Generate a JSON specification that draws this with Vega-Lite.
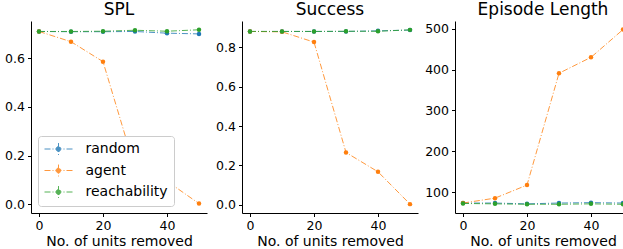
{
  "$schema": "https://vega.github.io/schema/vega-lite/v6.json",
  "padding": {"left": 2, "top": 1, "right": 0, "bottom": 0},
  "config": {
    "font": "DejaVu Sans",
    "view": {"stroke": null},
    "axis": {"grid": false, "domainColor": "#000000", "tickColor": "#000000", "tickSize": 3.5, "labelFontSize": 12.5, "labelColor": "#000000", "titleFontSize": 14, "titleFontWeight": "normal", "titleColor": "#000000", "labelPadding": 3, "titlePadding": 2, "domainWidth": 1, "tickWidth": 1},
    "axisY": {"minExtent": 29, "maxExtent": 29},
    "title": {"fontSize": 17, "fontWeight": "normal", "color": "#000000", "offset": 2}
  },
  "datasets": {
    "d": [
      {"metric": "SPL", "method": "random", "units": 0, "value": 0.710},
      {"metric": "SPL", "method": "random", "units": 10, "value": 0.709},
      {"metric": "SPL", "method": "random", "units": 20, "value": 0.709},
      {"metric": "SPL", "method": "random", "units": 30, "value": 0.710},
      {"metric": "SPL", "method": "random", "units": 40, "value": 0.703},
      {"metric": "SPL", "method": "random", "units": 50, "value": 0.700},
      {"metric": "SPL", "method": "agent", "units": 0, "value": 0.710},
      {"metric": "SPL", "method": "agent", "units": 10, "value": 0.668},
      {"metric": "SPL", "method": "agent", "units": 20, "value": 0.586},
      {"metric": "SPL", "method": "agent", "units": 30, "value": 0.148},
      {"metric": "SPL", "method": "agent", "units": 40, "value": 0.095},
      {"metric": "SPL", "method": "agent", "units": 50, "value": 0.003},
      {"metric": "SPL", "method": "reachability", "units": 0, "value": 0.710},
      {"metric": "SPL", "method": "reachability", "units": 10, "value": 0.710},
      {"metric": "SPL", "method": "reachability", "units": 20, "value": 0.711},
      {"metric": "SPL", "method": "reachability", "units": 30, "value": 0.715},
      {"metric": "SPL", "method": "reachability", "units": 40, "value": 0.711},
      {"metric": "SPL", "method": "reachability", "units": 50, "value": 0.717},
      {"metric": "Success", "method": "random", "units": 0, "value": 0.880},
      {"metric": "Success", "method": "random", "units": 10, "value": 0.880},
      {"metric": "Success", "method": "random", "units": 20, "value": 0.880},
      {"metric": "Success", "method": "random", "units": 30, "value": 0.880},
      {"metric": "Success", "method": "random", "units": 40, "value": 0.883},
      {"metric": "Success", "method": "random", "units": 50, "value": 0.887},
      {"metric": "Success", "method": "agent", "units": 0, "value": 0.880},
      {"metric": "Success", "method": "agent", "units": 10, "value": 0.878},
      {"metric": "Success", "method": "agent", "units": 20, "value": 0.826},
      {"metric": "Success", "method": "agent", "units": 30, "value": 0.266},
      {"metric": "Success", "method": "agent", "units": 40, "value": 0.168},
      {"metric": "Success", "method": "agent", "units": 50, "value": 0.004},
      {"metric": "Success", "method": "reachability", "units": 0, "value": 0.880},
      {"metric": "Success", "method": "reachability", "units": 10, "value": 0.880},
      {"metric": "Success", "method": "reachability", "units": 20, "value": 0.880},
      {"metric": "Success", "method": "reachability", "units": 30, "value": 0.881},
      {"metric": "Success", "method": "reachability", "units": 40, "value": 0.881},
      {"metric": "Success", "method": "reachability", "units": 50, "value": 0.888},
      {"metric": "Episode Length", "method": "random", "units": 0, "value": 73},
      {"metric": "Episode Length", "method": "random", "units": 10, "value": 73},
      {"metric": "Episode Length", "method": "random", "units": 20, "value": 71},
      {"metric": "Episode Length", "method": "random", "units": 30, "value": 73},
      {"metric": "Episode Length", "method": "random", "units": 40, "value": 74},
      {"metric": "Episode Length", "method": "random", "units": 50, "value": 73},
      {"metric": "Episode Length", "method": "agent", "units": 0, "value": 73},
      {"metric": "Episode Length", "method": "agent", "units": 10, "value": 85},
      {"metric": "Episode Length", "method": "agent", "units": 20, "value": 117},
      {"metric": "Episode Length", "method": "agent", "units": 30, "value": 391},
      {"metric": "Episode Length", "method": "agent", "units": 40, "value": 430},
      {"metric": "Episode Length", "method": "agent", "units": 50, "value": 498},
      {"metric": "Episode Length", "method": "reachability", "units": 0, "value": 72},
      {"metric": "Episode Length", "method": "reachability", "units": 10, "value": 71},
      {"metric": "Episode Length", "method": "reachability", "units": 20, "value": 70},
      {"metric": "Episode Length", "method": "reachability", "units": 30, "value": 70},
      {"metric": "Episode Length", "method": "reachability", "units": 40, "value": 71},
      {"metric": "Episode Length", "method": "reachability", "units": 50, "value": 70}
    ]
  },
  "spacing": 6,
  "resolve": {"legend": {"color": "independent"}},
  "hconcat": [
    {
      "title": "SPL",
      "width": 176, "height": 192,
      "data": {"name": "d"},
      "transform": [{"filter": "datum.metric === 'SPL'"}],
      "encoding": {
        "x": {"field": "units", "type": "quantitative", "scale": {"domain": [-2.5, 52.5], "nice": false, "zero": false}, "axis": {"values": [0, 20, 40], "format": "d", "title": "No. of units removed"}},
        "y": {"field": "value", "type": "quantitative", "scale": {"domain": [-0.0357, 0.753], "nice": false, "zero": false}, "axis": {"values": [0, 0.2, 0.4, 0.6], "format": ".1f", "title": null}},
        "color": {"field": "method", "type": "nominal", "scale": {"domain": ["random", "agent", "reachability"], "range": ["#1f77b4", "#ff7f0e", "#2ca02c"]},
          "legend": {"title": null, "orient": "bottom-left", "offset": 7, "fillColor": "#ffffff", "strokeColor": "#cccccc", "cornerRadius": 3, "padding": 5.5, "labelFontSize": 14, "labelColor": "#000000", "labelOffset": 19.5, "symbolType": "M-2,0L2,0M0,-0.85L0,0.85M-0.34,0A0.34,0.34 0 1,0 0.34,0A0.34,0.34 0 1,0 -0.34,0", "symbolSize": 196, "symbolStrokeWidth": 1, "symbolDash": [6, 2, 1, 2], "rowPadding": 4.5, "symbolOffset": 7.5}}
      },
      "layer": [
        {"mark": {"type": "line", "strokeWidth": 1, "strokeDash": [6, 2, 1, 2], "opacity": 0.8}},
        {"mark": {"type": "point", "filled": true, "size": 20, "opacity": 1}}
      ]
    },
    {
      "title": "Success",
      "width": 176, "height": 192,
      "data": {"name": "d"},
      "transform": [{"filter": "datum.metric === 'Success'"}],
      "encoding": {
        "x": {"field": "units", "type": "quantitative", "scale": {"domain": [-2.5, 52.5], "nice": false, "zero": false}, "axis": {"values": [0, 20, 40], "format": "d", "title": "No. of units removed"}},
        "y": {"field": "value", "type": "quantitative", "scale": {"domain": [-0.041, 0.933], "nice": false, "zero": false}, "axis": {"values": [0, 0.2, 0.4, 0.6, 0.8], "format": ".1f", "title": null}},
        "color": {"field": "method", "type": "nominal", "scale": {"domain": ["random", "agent", "reachability"], "range": ["#1f77b4", "#ff7f0e", "#2ca02c"]}, "legend": null}
      },
      "layer": [
        {"mark": {"type": "line", "strokeWidth": 1, "strokeDash": [6, 2, 1, 2], "opacity": 0.8}},
        {"mark": {"type": "point", "filled": true, "size": 20, "opacity": 1}}
      ]
    },
    {
      "title": "Episode Length",
      "width": 176, "height": 192,
      "data": {"name": "d"},
      "transform": [{"filter": "datum.metric === 'Episode Length'"}],
      "encoding": {
        "x": {"field": "units", "type": "quantitative", "scale": {"domain": [-2.5, 52.5], "nice": false, "zero": false}, "axis": {"values": [0, 20, 40], "format": "d", "title": "No. of units removed"}},
        "y": {"field": "value", "type": "quantitative", "scale": {"domain": [48.6, 519], "nice": false, "zero": false}, "axis": {"values": [100, 200, 300, 400, 500], "format": "d", "title": null}},
        "color": {"field": "method", "type": "nominal", "scale": {"domain": ["random", "agent", "reachability"], "range": ["#1f77b4", "#ff7f0e", "#2ca02c"]}, "legend": null}
      },
      "layer": [
        {"mark": {"type": "line", "strokeWidth": 1, "strokeDash": [6, 2, 1, 2], "opacity": 0.8}},
        {"mark": {"type": "point", "filled": true, "size": 20, "opacity": 1}}
      ]
    }
  ]
}
